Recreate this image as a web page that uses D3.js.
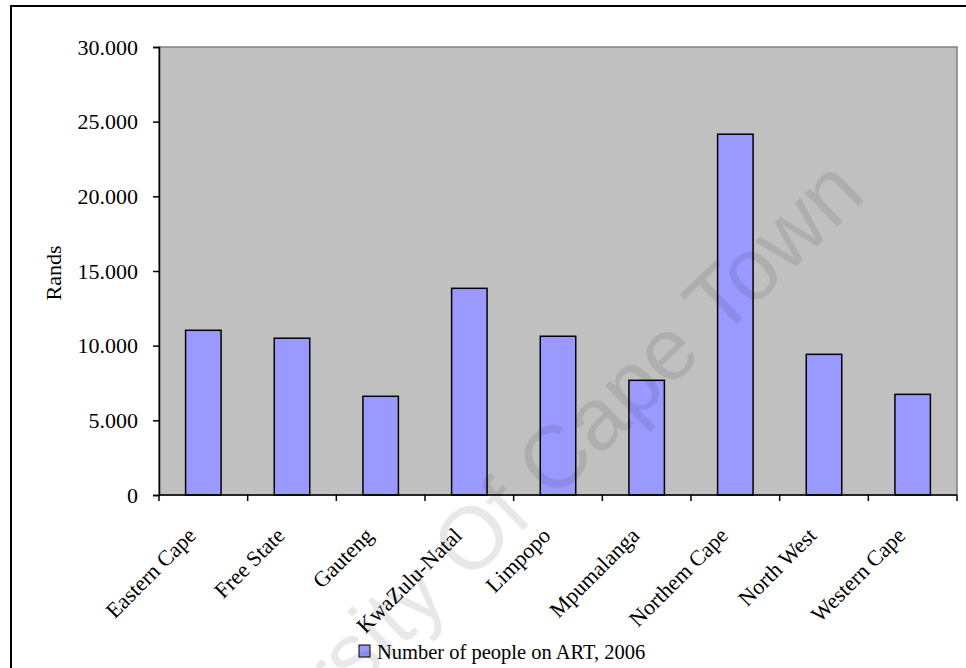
<!DOCTYPE html>
<html>
<head>
<meta charset="utf-8">
<script src="https://cdn.jsdelivr.net/npm/d3@7"></script>
<style>
  html, body { margin: 0; padding: 0; background: #ffffff; }
  svg { display: block; }
</style>
</head>
<body>
<div id="chart"></div>
<script>
// Provinces and the number of people on ART in 2006
const provinces = ["Eastern Cape", "Free State", "Gauteng", "KwaZulu-Natal", "Limpopo",
                   "Mpumalanga", "Northem Cape", "North West", "Western Cape"];
const artPeople = [11030, 10500, 6610, 13840, 10630, 7680, 24160, 9420, 6740];
const yTicks = [0, 5000, 10000, 15000, 20000, 25000, 30000];
const seriesName = "Number of people on ART, 2006";
const yTitle = "Rands";
const watermark = "University Of Cape Town";

const W = 966, H = 668;
const plot = { left: 159, right: 957, top: 47, bottom: 495 };
const serif = "'Liberation Serif', 'Times New Roman', serif";

const svg = d3.select("#chart").append("svg")
  .attr("width", W).attr("height", H);

// outer chart frame (runs past the visible area on the right and bottom)
svg.append("rect")
  .attr("x", 11).attr("y", 6)
  .attr("width", W + 20).attr("height", H + 20)
  .attr("fill", "#ffffff").attr("stroke", "#000").attr("stroke-width", 2);

const x = d3.scaleBand()
  .domain(provinces)
  .range([plot.left, plot.right])
  .paddingInner(0.6)
  .paddingOuter(0.3);

const y = d3.scaleLinear()
  .domain([0, 30000])
  .range([plot.bottom, plot.top]);

const loc = d3.formatLocale({ decimal: ",", thousands: ".", grouping: [3], currency: ["", ""] });
const fmt = loc.format(",");

// plot area
svg.append("rect")
  .attr("x", plot.left).attr("y", plot.top)
  .attr("width", plot.right - plot.left).attr("height", plot.bottom - plot.top)
  .attr("fill", "#c0c0c0").attr("stroke", "#808080").attr("stroke-width", 1.5);

// bars
svg.append("g").selectAll("rect")
  .data(provinces.map((p, i) => ({ p, v: artPeople[i] })))
  .join("rect")
  .attr("x", d => x(d.p))
  .attr("y", d => y(d.v))
  .attr("width", x.bandwidth())
  .attr("height", d => y(0) - y(d.v))
  .attr("fill", "#9999ff")
  .attr("stroke", "#000")
  .attr("stroke-width", 1.5);

// y axis
const yAxis = svg.append("g")
  .attr("transform", `translate(${plot.left},0)`)
  .call(d3.axisLeft(y).tickValues(yTicks).tickFormat(fmt).tickSize(6).tickPadding(15));
yAxis.select(".domain").attr("stroke", "#000").attr("stroke-width", 1.5);
yAxis.selectAll(".tick line").attr("stroke", "#000").attr("stroke-width", 1.5);
yAxis.selectAll(".tick text")
  .attr("font-family", serif).attr("font-size", 22).attr("fill", "#000");

// x axis: ticks sit on the category boundaries
const step = x.step();
const boundaries = d3.range(provinces.length + 1).map(i => plot.left + i * step);
const xAxis = svg.append("g");
xAxis.append("line")
  .attr("x1", plot.left).attr("x2", plot.right)
  .attr("y1", plot.bottom).attr("y2", plot.bottom)
  .attr("stroke", "#000").attr("stroke-width", 1.5);
xAxis.selectAll("line.tk")
  .data(boundaries)
  .join("line").attr("class", "tk")
  .attr("x1", d => d).attr("x2", d => d)
  .attr("y1", plot.bottom).attr("y2", plot.bottom + 6)
  .attr("stroke", "#000").attr("stroke-width", 1.5);

xAxis.selectAll("text")
  .data(provinces)
  .join("text")
  .attr("transform", d => `translate(${x(d) + x.bandwidth() / 2 - 17},${plot.bottom + 31}) rotate(-45)`)
  .attr("text-anchor", "end")
  .attr("dy", "0.7em")
  .attr("font-family", serif).attr("font-size", 22).attr("fill", "#000")
  .text(d => d);

// y title
svg.append("text")
  .attr("transform", `translate(61,273) rotate(-90)`)
  .attr("text-anchor", "middle")
  .attr("font-family", serif).attr("font-size", 22).attr("fill", "#000")
  .text(yTitle);

// legend
const lg = svg.append("g").attr("transform", "translate(359,645)");
lg.append("rect")
  .attr("width", 11).attr("height", 12)
  .attr("fill", "#9999ff").attr("stroke", "#000").attr("stroke-width", 1);
lg.append("text")
  .attr("x", 18).attr("y", 14)
  .attr("font-family", serif).attr("font-size", 20.5).attr("fill", "#000")
  .text(seriesName);

// faint diagonal watermark over the whole chart
svg.append("text")
  .attr("transform", "translate(868,197) rotate(-44)")
  .attr("text-anchor", "end")
  .attr("font-family", "'Liberation Sans', Arial, sans-serif")
  .attr("font-size", 88)
  .attr("fill", "#000").attr("fill-opacity", 0.09)
  .text(watermark);
</script>
</body>
</html>
